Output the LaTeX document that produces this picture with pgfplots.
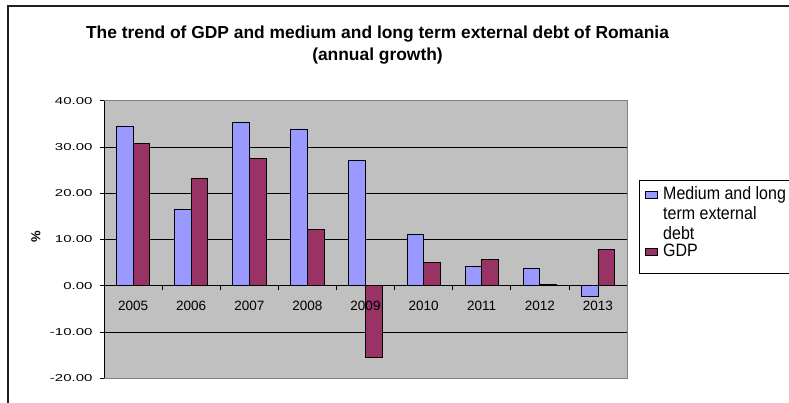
\documentclass[border=0pt]{standalone}
\usepackage{pgfplots}
\pgfplotsset{compat=1.18}
\usepackage{fontspec}
\setmainfont{Liberation Sans}
\definecolor{debtc}{HTML}{9999FF}
\definecolor{gdpc}{HTML}{993366}
\definecolor{bgc}{HTML}{C0C0C0}
\newcommand{\yl}[1]{\scalebox{1}[0.67]{#1}}
\newcommand{\lgtext}[1]{\scalebox{1}[1.12]{#1}}
\tikzset{xl/.style={font=\fontsize{13.5}{16}\selectfont, anchor=north, inner sep=0pt, yshift=-15pt},
  lt/.style={font=\fontsize{16}{19}\selectfont, anchor=base west, inner sep=0pt}}
\begin{document}
\begin{tikzpicture}[x=1pt,y=1pt]
\path[use as bounding box] (0,0) rectangle (789,403);
\draw[line width=2pt, color=black!88] (8,-20) -- (8,397.3) -- (900,397.3);
\node[font=\bfseries\fontsize{17.4}{20}\selectfont, anchor=base] at (377.5,364) {The trend of GDP and medium and long term external debt of Romania};
\node[font=\bfseries\fontsize{17.4}{20}\selectfont, anchor=base] at (377.5,342.3) {(annual growth)};
\begin{axis}[
  at={(104pt,24.7pt)}, anchor=south west,
  scale only axis, width=523pt, height=277.6pt,
  xmin=-0.5, xmax=8.5, ymin=-20, ymax=40,
  ybar=0pt, bar width=16.7pt,
  axis background/.style={fill=bgc, draw=gray},
  axis line style={draw=none},
  xtick={0,...,8},
  xticklabels={},
  xtick style={draw=none},
  ytick={-20,-10,0,10,20,30,40},
  yticklabels={\yl{-20.00},\yl{-10.00},\yl{0.00},\yl{10.00},\yl{20.00},\yl{30.00},\yl{40.00}},
  yticklabel style={font=\fontsize{15}{17}\selectfont, xshift=-4pt},
  ytick pos=left, tick align=outside, major tick length=4pt,
  ytick style={black, line width=0.7pt},
  extra y ticks={-10,0,10,20,30},
  extra y tick labels={},
  extra y tick style={grid=major, major tick length=0pt},
  major grid style={black, line width=0.8pt},
  ylabel={\%},
  ylabel style={font=\bfseries\fontsize{13}{16}\selectfont, at={(axis description cs:-0.13,0.51)}, anchor=center},
]
\addplot[fill=debtc, draw=black, line width=0.8pt]
  coordinates {(0,34.4) (1,16.4) (2,35.3) (3,33.9) (4,27.1) (5,11.0) (6,4.2) (7,3.7) (8,-2.4)};
\addplot[fill=gdpc, draw=black, line width=0.8pt]
  coordinates {(0,30.8) (1,23.2) (2,27.6) (3,12.1) (4,-15.5) (5,5.1) (6,5.6) (7,0.3) (8,7.9)};
\draw[black, line width=0.8pt] (axis cs:-0.5,-20) -- (axis cs:-0.5,40);
\pgfplotsinvokeforeach{0.5,1.5,2.5,3.5,4.5,5.5,6.5,7.5,8.5}{
  \draw[black, line width=0.7pt] (axis cs:#1,0) -- ++(0pt,-4pt);
}
\node[xl] at (axis cs:0,0) {2005};
\node[xl] at (axis cs:1,0) {2006};
\node[xl] at (axis cs:2,0) {2007};
\node[xl] at (axis cs:3,0) {2008};
\node[xl] at (axis cs:4,0) {2009};
\node[xl] at (axis cs:5,0) {2010};
\node[xl] at (axis cs:6,0) {2011};
\node[xl] at (axis cs:7,0) {2012};
\node[xl] at (axis cs:8,0) {2013};
\end{axis}
% legend
\draw[black, line width=0.8pt, fill=white] (639,222.3) rectangle (900,129.7);
\draw[black, line width=0.8pt, fill=debtc] (645.5,212) rectangle (657.5,204.2);
\draw[black, line width=0.8pt, fill=gdpc] (645.5,155) rectangle (657.5,147.2);
\node[lt] at (663,203.7) {\lgtext{Medium and long}};
\node[lt] at (663,183.7) {\lgtext{term external}};
\node[lt] at (663,163.5) {\lgtext{debt}};
\node[lt] at (663,146) {\lgtext{GDP}};
\end{tikzpicture}
\end{document}
